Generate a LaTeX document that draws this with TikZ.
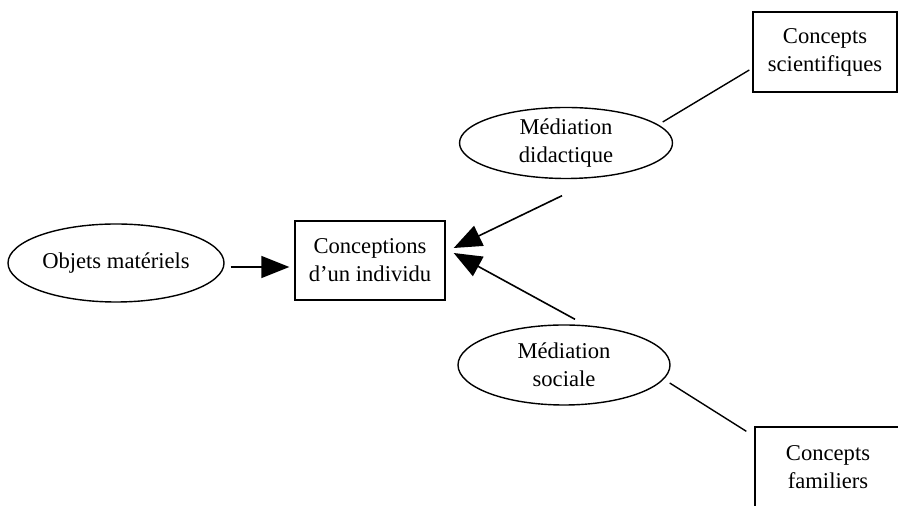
\documentclass[tikz,border=0pt]{standalone}
\usepackage{fontspec}
\setmainfont{Liberation Serif}
\usetikzlibrary{shapes.geometric,arrows.meta}
\tikzset{every picture/.style={/utils/exec={\fontsize{11.3}{14}\selectfont}}}
\tikzset{
  mediation/.style={draw, ellipse, line width=0.7pt, align=center, inner sep=0pt},
  concept/.style={draw, rectangle, line width=0.7pt, align=center, inner sep=0pt},
  fleche/.style={-{Triangle[length=14pt,width=11pt]}, line width=0.8pt},
  lien/.style={line width=0.7pt}
}

\begin{document}
\begin{tikzpicture}[x=0.5pt, y=-0.5pt]
  \useasboundingbox (0,0) rectangle (898,506);

  \node [mediation, minimum width=108pt, minimum height=39pt] (objets) at (116,263) {Objets matériels};
  \node [concept, minimum width=75pt, minimum height=39.5pt] (individu) at (370,260.5) {Conceptions\\d'un individu};

  \node [mediation, minimum width=106.5pt, minimum height=35.5pt] (didac) at (566,143) {Médiation\\didactique};
  \node [mediation, minimum width=106pt, minimum height=40pt] (social) at (564,365) {Médiation\\sociale};

  \node [concept, minimum width=72pt, minimum height=40pt] (scient) at (825,52) {Concepts\\scientifiques};
  \node [concept, minimum width=73pt, minimum height=40.5pt] (famil) at (828,467.5) {Concepts\\familiers};

  % fleches vers les conceptions
  \draw [fleche] ([shift={(3pt,-2pt)}]objets.east) -- ([shift={(-2.5pt,-3.25pt)}]individu.west);
  \draw [fleche] ([shift={(-2pt,-8.25pt)}]didac.south) -- ([shift={(4pt,6.25pt)}]individu.east);
  \draw [fleche] ([shift={(5.5pt,2.5pt)}]social.north) -- ([shift={(4pt,3.75pt)}]individu.east);

  % liens avec les concepts
  \draw [lien] ([shift={(-5.25pt,10.5pt)}]didac.east) -- ([shift={(-1.5pt,-9pt)}]scient.west);
  \draw [lien] ([shift={(-0.5pt,-9pt)}]social.east) -- ([shift={(-4pt,-2.5pt)}]famil.north west);
\end{tikzpicture}
\end{document}
